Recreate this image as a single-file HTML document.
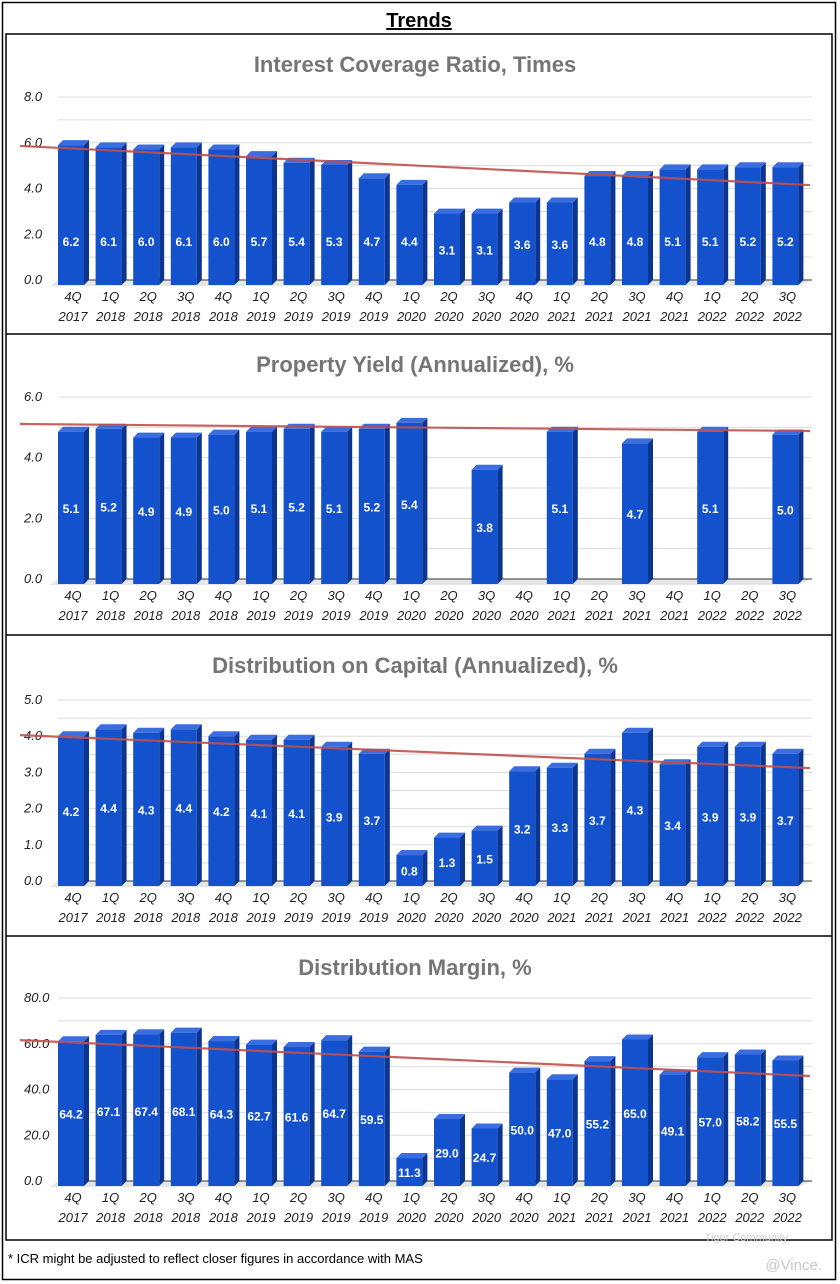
<!DOCTYPE html>
<html><head><meta charset="utf-8"><style>
body{margin:0;background:#fff;width:840px;height:1284px;overflow:hidden;font-family:"Liberation Sans",sans-serif}
svg{display:block}
</style></head><body>
<svg id="s" width="840" height="1284" viewBox="0 0 840 1284">
<rect x="2.5" y="2.5" width="833" height="1277" fill="#fff" stroke="#000" stroke-width="1.5"/>
<text x="419" y="27" text-anchor="middle" font-size="20" font-weight="bold" text-decoration="underline">Trends</text>
<rect x="6" y="34" width="826" height="1206" fill="none" stroke="#000" stroke-width="1.5"/>
<line x1="6" y1="334" x2="832" y2="334" stroke="#000" stroke-width="1.5"/>
<line x1="6" y1="635" x2="832" y2="635" stroke="#000" stroke-width="1.5"/>
<line x1="6" y1="936" x2="832" y2="936" stroke="#000" stroke-width="1.5"/>
<text x="8" y="1263" font-size="13">* ICR might be adjusted to reflect closer figures in accordance with MAS</text>
<text x="822" y="1270" text-anchor="end" font-size="15" fill="#c8c8c8">@Vince.</text>
<text x="788" y="1241" text-anchor="end" font-size="11" fill="#d0d0d0">Tiger Community</text>
</svg>
<script>
const quarters=["4Q","1Q","2Q","3Q","4Q","1Q","2Q","3Q","4Q","1Q","2Q","3Q","4Q","1Q","2Q","3Q","4Q","1Q","2Q","3Q"];
const years=["2017","2018","2018","2018","2018","2019","2019","2019","2019","2020","2020","2020","2020","2021","2021","2021","2021","2022","2022","2022"];
const icrValues=[6.2,6.1,6.0,6.1,6.0,5.7,5.4,5.3,4.7,4.4,3.1,3.1,3.6,3.6,4.8,4.8,5.1,5.1,5.2,5.2];
const yieldValues=[5.1,5.2,4.9,4.9,5.0,5.1,5.2,5.1,5.2,5.4,null,3.8,null,5.1,null,4.7,null,5.1,null,5.0];
const docValues=[4.2,4.4,4.3,4.4,4.2,4.1,4.1,3.9,3.7,0.8,1.3,1.5,3.2,3.3,3.7,4.3,3.4,3.9,3.9,3.7];
const marginValues=[64.2,67.1,67.4,68.1,64.3,62.7,61.6,64.7,59.5,11.3,29.0,24.7,50.0,47.0,55.2,65.0,49.1,57.0,58.2,55.5];
const icrTicks=[0,2,4,6,8];
const yieldTicks=[0,2,4,6];
const docTicks=[0,1,2,3,4,5];
const marginTicks=[0,20,40,60,80];
const icrTrend=[5.86,4.15];
const yieldTrend=[5.11,4.88];
const docTrend=[4.03,3.12];
const marginTrend=[61.6,45.9];
const NS="http://www.w3.org/2000/svg";
const svg=document.getElementById('s');
function el(t,a,txt){const e=document.createElementNS(NS,t);for(const k in a)e.setAttribute(k,a[k]);if(txt!==undefined)e.textContent=txt;svg.appendChild(e);return e;}
function chart(cfg){
  const {title,titleY,zeroY,topY,ticks,minor,values,trend,key,labelCap}=cfg;
  const maxT=ticks[ticks.length-1];
  const y=v=>zeroY-(v/maxT)*(zeroY-topY);
  const yb=v=>zeroY-0.965*(v/maxT)*(zeroY-topY);
  const x=i=>71+i*37.6;
  const t=el('text',{x:415,y:titleY,'text-anchor':'middle','font-size':22,'font-weight':'bold',fill:'#757575'},title);
  
  
  for(let v=0;v<=maxT+1e-9;v+=minor){
    const g=el('line',{x1:58,x2:812,y1:y(v),y2:y(v),stroke:'#dcdcdc','stroke-width':1});
    
    
  }
  ticks.forEach(v=>{
    const l=el('text',{x:24,y:y(v)+4,'font-size':13,'font-style':'italic',fill:'#222'},v.toFixed(1));
    
    
  });
  const f=el('polygon',{points:`50,${zeroY+6} 798,${zeroY+6} 812,${zeroY} 58,${zeroY}`,fill:'#e6e6e6'});
  
  
  el('line',{x1:58,x2:812,y1:zeroY,y2:zeroY,stroke:'#333','stroke-width':1});
  values.forEach((v,i)=>{
    const cx=x(i);
    const q=el('text',{x:cx+2,y:zeroY+21,'text-anchor':'middle','font-size':13,'font-style':'italic',fill:'#222'},quarters[i]);
    
    
    const yr=el('text',{x:cx+2,y:zeroY+41,'text-anchor':'middle','font-size':13,'font-style':'italic',fill:'#222'},years[i]);
    
    
    if(v===null)return;
    const top=yb(v)+2,base=zeroY+5,l=cx-13,r=cx+13;
    el('polygon',{points:`${r},${top} ${r+5},${top-5} ${r+5},${base-5} ${r},${base}`,fill:'#0c3590'});
    el('polygon',{points:`${l},${top} ${l+5},${top-5} ${r+5},${top-5} ${r},${top}`,fill:'#3a6ee0'});
    const b=el('rect',{x:l,y:top,width:26,height:base-top,fill:'#1451cc'});
    
    
    const h=base-top;
    const ly=base-Math.min(h/2,labelCap)+5;
    const vl=el('text',{x:cx,y:ly,'text-anchor':'middle','font-size':12,'font-weight':'bold',fill:'#fff'},v.toFixed(1));
    
    
  });
  const tl=el('line',{x1:20,x2:810,y1:y(trend[0]),y2:y(trend[1]),stroke:'#c0504d','stroke-width':2.2,'stroke-opacity':0.9});
  
  
}
chart({key:'icr',title:'Interest Coverage Ratio, Times',titleY:72,zeroY:280,topY:97,ticks:icrTicks,minor:1,values:icrValues,trend:icrTrend,labelCap:44});
chart({key:'yield',title:'Property Yield (Annualized), %',titleY:372,zeroY:579,topY:397,ticks:yieldTicks,minor:1,values:yieldValues,trend:yieldTrend,labelCap:80});
chart({key:'doc',title:'Distribution on Capital (Annualized), %',titleY:673,zeroY:881,topY:700,ticks:docTicks,minor:0.5,values:docValues,trend:docTrend,labelCap:80});
chart({key:'margin',title:'Distribution Margin, %',titleY:975,zeroY:1181,topY:998,ticks:marginTicks,minor:10,values:marginValues,trend:marginTrend,labelCap:75});
</script>
</body></html>
